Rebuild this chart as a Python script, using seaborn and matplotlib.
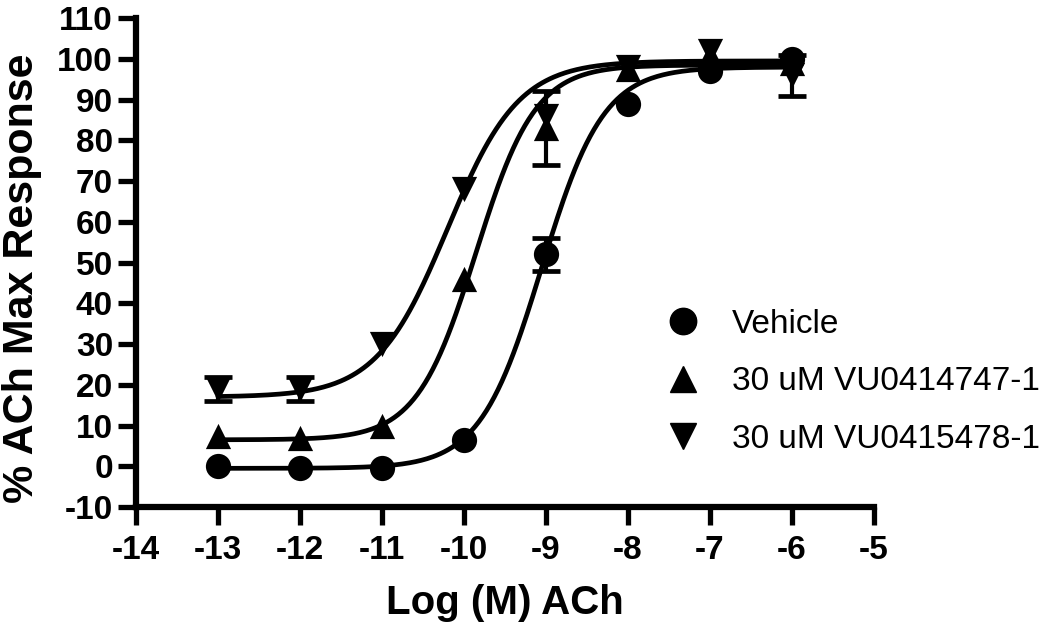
import numpy as np
import pandas as pd
import matplotlib
matplotlib.use('Agg')
import matplotlib.pyplot as plt
import seaborn as sns

# log concentrations
log_ach = [-13, -12, -11, -10, -9, -8, -7, -6]

# mean % max response per group
vehicle = [0, -0.5, -0.5, 6.5, 52, 89, 97, 100]
vu0414747 = [7.5, 7, 10, 46, 83, 97.5, 101, 99]
vu0415478 = [19, 19, 30, 68, 86, 98, 102, 96]

# SEM (0 where bars hidden by markers)
vehicle_err = [0, 0, 0, 0, 4, 0, 0, 0]
vu0414747_err = [0, 0, 0, 0, 9, 0, 0, 0]
vu0415478_err = [3, 3, 0, 0, 0, 0, 0, 5]

labels = ['Vehicle', '30 uM VU0414747-1', '30 uM VU0415478-1']
markers = ['o', '^', 'v']

# fitted 4PL parameters (bottom, top, logEC50, hill) per group
fit_bottom = [-0.5, 6.5, 17.0]
fit_top = [98.0, 98.5, 99.5]
fit_logec50 = [-9.05, -9.85, -10.2]
fit_hill = [1.15, 1.2, 1.0]

sns.set_style('ticks')
plt.rcParams['font.family'] = ['Liberation Sans', 'DejaVu Sans']
plt.rcParams['axes.unicode_minus'] = False
for k in ['text.color', 'axes.labelcolor', 'xtick.color', 'ytick.color', 'axes.edgecolor']:
    plt.rcParams[k] = 'black'

fig = plt.figure(figsize=(10.5, 6.26), dpi=100)
ax = fig.add_axes([0.1295, 0.19, 0.7025, 0.781])

means = [vehicle, vu0414747, vu0415478]
errs = [vehicle_err, vu0414747_err, vu0415478_err]

for i, lab in enumerate(labels):
    xx = np.linspace(-13, -6, 300)
    yy = fit_bottom[i] + (fit_top[i] - fit_bottom[i]) / (1 + 10 ** ((fit_logec50[i] - xx) * fit_hill[i]))
    curve = pd.DataFrame({'x': xx, 'y': yy})
    sns.lineplot(data=curve, x='x', y='y', ax=ax, color='black', linewidth=3.4, legend=False)

    pts = pd.DataFrame({'x': log_ach, 'y': means[i], 'e': errs[i]})
    e = pts[pts['e'] > 0]
    ax.errorbar(e['x'], e['y'], yerr=e['e'], fmt='none', ecolor='black',
                elinewidth=3, capsize=10, capthick=3.4, zorder=3)
    sns.scatterplot(data=pts, x='x', y='y', ax=ax, marker=markers[i], color='black',
                    s=330, edgecolor='black', linewidth=0, zorder=4)

# legend handles
handles = [plt.Line2D([], [], linestyle='none', marker=m, color='black', markersize=19) for m in markers]
leg = fig.legend(handles, labels, loc='center left', bbox_to_anchor=(0.635, 0.39), frameon=False,
                 fontsize=24, handlelength=1.0, handletextpad=0.95, labelspacing=0.8,
                 borderpad=0, borderaxespad=0)

ax.set_xlim(-14, -5)
ax.set_ylim(-10, 110)
ax.set_xticks(range(-14, -4))
ax.set_yticks(range(-10, 111, 10))
ax.tick_params(width=3.8, length=13, labelsize=24, direction='out')
ax.tick_params(axis='y', pad=3.5)
ax.tick_params(axis='x', pad=7)
for lab in ax.get_xticklabels() + ax.get_yticklabels():
    lab.set_fontweight('bold')
for s in ['left', 'bottom']:
    ax.spines[s].set_linewidth(4.5)
sns.despine(ax=ax)

ax.set_xlabel('Log (M) ACh', fontsize=29, fontweight='bold', labelpad=13)
ax.set_ylabel('% ACh Max Response', fontsize=31, fontweight='bold')
ax.yaxis.set_label_coords(-0.127, 0.468)

fig.savefig('out.png', dpi=100)
